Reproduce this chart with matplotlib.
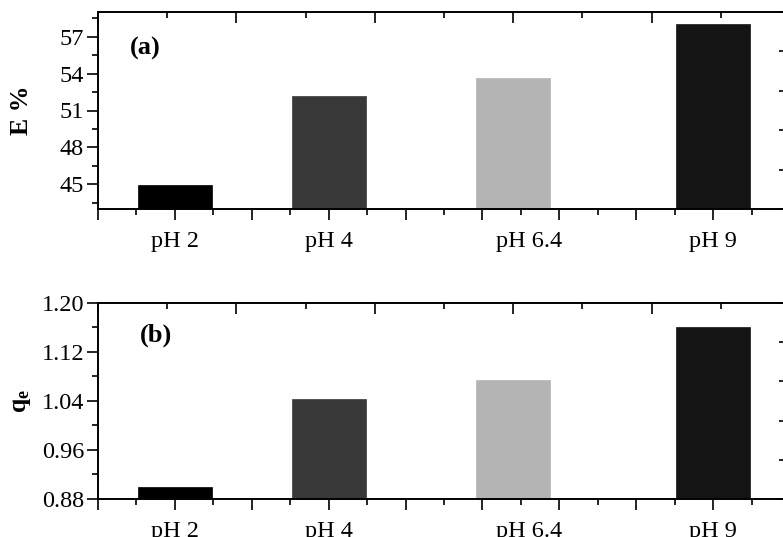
import matplotlib
matplotlib.use("Agg")
import matplotlib.pyplot as plt
from matplotlib.ticker import MultipleLocator, NullFormatter

plt.rcParams['font.family'] = ['Liberation Serif', 'DejaVu Serif']
plt.rcParams['mathtext.fontset'] = 'custom'
plt.rcParams['mathtext.rm'] = 'Liberation Serif'
plt.rcParams['mathtext.bf'] = 'Liberation Serif:bold'

# ---- data ----
categories = ['pH 2', 'pH 4', 'pH 6.4', 'pH 9']
ph_values = [2, 4, 6.4, 9]
e_percent = [44.95, 52.15, 53.65, 58.0]
qe_values = [0.900, 1.044, 1.074, 1.160]
bar_colors = ['#000000', '#383838', '#b4b4b4', '#141414']

# label x shifts (in data units) as drawn in original
label_shift = [0.0, 0.0, 0.2, 0.0]

W, H = 783, 537
fig = plt.figure(figsize=(W / 100, H / 100), dpi=100)

def px_axes(left, top, right, bottom):
    return [left / W, 1 - bottom / H, (right - left) / W, (bottom - top) / H]

panels = [
    dict(pos=px_axes(98, 12, 790, 209), vals=e_percent, ylim=(43, 59), major=3, minor=1.5,
         ylabel='E %', tag='(a)', tagpos=(130, 48), fmt='{:.0f}'),
    dict(pos=px_axes(98, 303, 790, 499), vals=qe_values, ylim=(0.88, 1.20), major=0.08, minor=0.04,
         ylabel=r'$\mathbf{q_e}$', tag='(b)', tagpos=(140, 335), fmt='{:.2f}'),
]

lw = 1.4
fs = 17.5
for p in panels:
    ax = fig.add_axes(p['pos'])
    ax.bar(ph_values, p['vals'], width=0.96, color=bar_colors, edgecolor=bar_colors,
           linewidth=0.5, zorder=2)
    ax.set_xlim(1, 10)
    ax.set_ylim(*p['ylim'])
    ax.xaxis.set_major_locator(MultipleLocator(1))
    ax.xaxis.set_minor_locator(MultipleLocator(0.5))
    ax.xaxis.set_major_formatter(NullFormatter())
    ax.yaxis.set_major_locator(MultipleLocator(p['major']))
    ax.yaxis.set_minor_locator(MultipleLocator(p['minor']))
    fmt = p['fmt']
    ax.yaxis.set_major_formatter(plt.FuncFormatter(lambda v, _, f=fmt: f.format(v)))
    ax.tick_params(axis='both', which='major', direction='out', length=8, width=1.2,
                   labelsize=fs, pad=2)
    ax.tick_params(axis='both', which='minor', direction='out', length=4, width=1.2)
    ax.tick_params(top=False, right=False)
    for s in ax.spines.values():
        s.set_linewidth(lw)
    ax.set_ylabel(p['ylabel'], fontsize=fs + 1, fontweight='bold')
    ax.yaxis.set_label_coords((33 - 98) / 692, 0.5)
    for xv, lab, sh in zip(ph_values, categories, label_shift):
        ax.annotate(lab, xy=(xv + sh, 0), xycoords=('data', 'axes fraction'),
                    xytext=(0, -22), textcoords='offset pixels',
                    ha='center', va='top', fontsize=fs)
    fig.text(p['tagpos'][0] / W, 1 - p['tagpos'][1] / H, p['tag'], fontsize=fs + 1.5,
             fontweight='bold', ha='left', va='center')

    # mirrored top/right frame ticks (independent 0..1 scale)
    ax2 = fig.add_axes(p['pos'], frameon=False)
    ax2.set_xlim(0, 1)
    ax2.set_ylim(0, 1)
    ax2.patch.set_visible(False)
    ax2.xaxis.tick_top()
    ax2.yaxis.tick_right()
    ax2.xaxis.set_major_locator(MultipleLocator(0.2))
    ax2.xaxis.set_minor_locator(MultipleLocator(0.1))
    ax2.yaxis.set_major_locator(MultipleLocator(0.2))
    ax2.yaxis.set_minor_locator(MultipleLocator(0.1))
    ax2.xaxis.set_major_formatter(NullFormatter())
    ax2.yaxis.set_major_formatter(NullFormatter())
    ax2.tick_params(which='major', direction='in', length=8, width=1.2)
    ax2.tick_params(which='minor', direction='in', length=4, width=1.2)

fig.savefig('out.png', dpi=100)
